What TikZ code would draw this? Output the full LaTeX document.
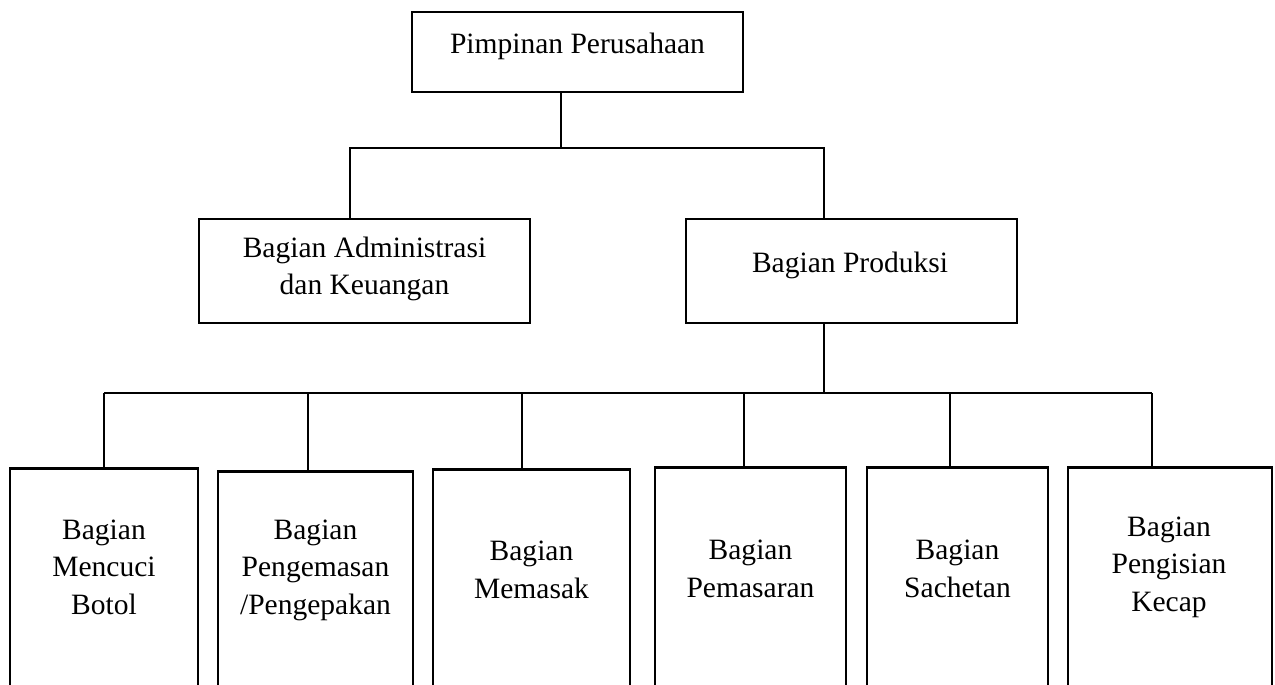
\documentclass[tikz,border=0pt]{standalone}
\usepackage{fontspec}
\setmainfont{Liberation Serif}
\usetikzlibrary{positioning}
\tikzstyle{box} = [draw, line width=1.6pt, rectangle, inner sep=0pt]
\tikzstyle{txt} = [align=center, inner sep=0pt, font=\fontsize{16.8}{21.3}\selectfont]
\tikzstyle{line} = [line width=0.6pt]

\begin{document}
\begin{tikzpicture}[x=0.02cm, y=-0.02cm]
    \useasboundingbox (0,0) rectangle (1275,684);
    \clip (0,0) rectangle (1275,684);
    % pimpinan
    \node[box, minimum width=6.62cm, minimum height=1.6cm] (pimpinan) at (577.5,52) {};
    \node[txt] (pimpinanlbl) at (577.5,46) {Pimpinan Perusahaan};
    % bagian tengah
    \node[box, minimum width=6.62cm, minimum height=2.08cm] (admin) at (364.5,271) {};
    \node[txt] (adminlbl) at (364.5,269) {Bagian Administrasi\\dan Keuangan};
    \node[box, minimum width=6.62cm, minimum height=2.08cm] (produksi) at (851.5,271) {};
    \node[txt] (produksilbl) at (850,265) {Bagian Produksi};
    % bagian bawah
    \node[box, anchor=north, minimum width=3.76cm, minimum height=5cm] (mencuci) at (104,467) {};
    \node[txt] (mencucilbl) at (104,567) {Bagian\\Mencuci\\Botol};
    \node[box, anchor=north, minimum width=3.9cm, minimum height=5cm] (kemas) at (315.5,470) {};
    \node[txt] (kemaslbl) at (315.5,570) {Bagian\\Pengemasan\\/Pengepakan};
    \node[box, anchor=north, minimum width=3.94cm, minimum height=5cm] (masak) at (531.5,468) {};
    \node[txt] (masaklbl) at (531.5,570) {Bagian\\Memasak};
    \node[box, anchor=north, minimum width=3.82cm, minimum height=5cm] (pasar) at (750.5,466) {};
    \node[txt] (pasarlbl) at (750.5,569) {Bagian\\Pemasaran};
    \node[box, anchor=north, minimum width=3.62cm, minimum height=5cm] (sachet) at (957.5,466) {};
    \node[txt] (sachetlbl) at (957.5,569) {Bagian\\Sachetan};
    \node[box, anchor=north, minimum width=4.08cm, minimum height=5cm] (isi) at (1170,466) {};
    \node[txt] (isilbl) at (1169,567) {Bagian\\Pengisian\\Kecap};
    % garis
    \coordinate (top) at (561,148);
    \coordinate (a1) at (350,148);
    \coordinate (p1) at (824,148);
    \coordinate (p2) at (824,393);
    \draw[line] (pimpinan.south -| top) -- (top);
    \draw[line] (admin.north -| a1) -- (a1) -- (p1) -- (produksi.north -| p1);
    \draw[line] (produksi.south -| p2) -- (p2);
    \coordinate (b1) at (104,393);
    \coordinate (b2) at (308,393);
    \coordinate (b3) at (522,393);
    \coordinate (b4) at (744,393);
    \coordinate (b5) at (950,393);
    \coordinate (b6) at (1152,393);
    \draw[line] (b1) -- (b6);
    \draw[line] (b1) -- (mencuci.north -| b1);
    \draw[line] (b2) -- (kemas.north -| b2);
    \draw[line] (b3) -- (masak.north -| b3);
    \draw[line] (b4) -- (pasar.north -| b4);
    \draw[line] (b5) -- (sachet.north -| b5);
    \draw[line] (b6) -- (isi.north -| b6);
\end{tikzpicture}
\end{document}
